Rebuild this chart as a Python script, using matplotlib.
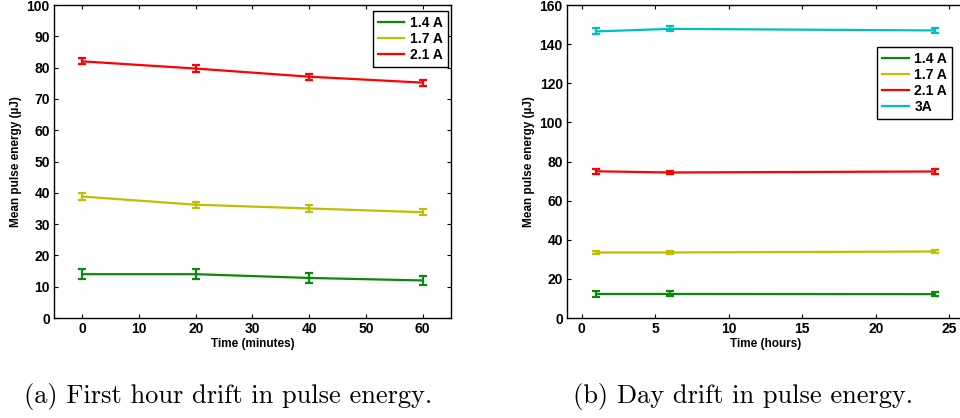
"""
Pulse energy drift, first hour and full day.
"""

import matplotlib
matplotlib.use('Agg')
import matplotlib.pyplot as plt

# Data
# ----------------------------------------------------------------------------

t_min = [0, 20, 40, 60]
hour_14 = [14.0, 14.0, 12.8, 12.0]
hour_14_err = [1.5, 1.5, 1.5, 1.5]
hour_17 = [38.8, 36.2, 35.0, 33.8]
hour_17_err = [1.0, 1.0, 1.0, 1.0]
hour_21 = [82.0, 79.7, 77.1, 75.2]
hour_21_err = [1.0, 1.0, 1.0, 1.0]

t_hours = [1, 6, 24]
day_14 = [12.3, 12.3, 12.2]
day_14_err = [1.5, 1.3, 1.2]
day_17 = [33.5, 33.5, 34.0]
day_17_err = [1.0, 1.0, 1.0]
day_21 = [75.0, 74.4, 74.9]
day_21_err = [1.2, 1.0, 1.2]
day_3 = [146.5, 147.8, 147.0]
day_3_err = [1.5, 1.3, 1.5]

labels = ['1.4 A', '1.7 A', '2.1 A', '3A']
colors = ['#0a8a0a', '#bfbf00', '#ff0000', '#00bfbf']

# Plot
# ----------------------------------------------------------------------------

plt.rcParams['font.family'] = ['Liberation Sans', 'DejaVu Sans']
plt.rcParams['font.weight'] = 'bold'

fig = plt.figure(figsize=(9.6, 4.18), dpi=100)
ax1 = fig.add_axes([0.05625, 0.2392, 0.4135, 0.7488])
ax2 = fig.add_axes([0.5906, 0.2392, 0.4135, 0.7488])


def draw(ax, x, series, errs, n):
    handles = []
    for i in range(n):
        eb = ax.errorbar(x, series[i], yerr=errs[i], color=colors[i], lw=1.6,
                         elinewidth=1.6, capsize=3, capthick=1.6)
        eb[0].set_label(labels[i])
        handles.append(eb[0])
    return handles


h1 = draw(ax1, t_min, [hour_14, hour_17, hour_21],
          [hour_14_err, hour_17_err, hour_21_err], 3)
h2 = draw(ax2, t_hours, [day_14, day_17, day_21, day_3],
          [day_14_err, day_17_err, day_21_err, day_3_err], 4)

ax1.set_xlim(-5, 65)
ax1.set_ylim(0, 100)
ax1.set_xticks(range(0, 61, 10))
ax1.set_yticks(range(0, 101, 10))
ax1.set_xlabel('Time (minutes)', fontsize=8.5, fontweight='bold', labelpad=1)

ax2.set_xlim(-1, 26)
ax2.set_ylim(0, 160)
ax2.set_xticks(range(0, 26, 5))
ax2.set_yticks(range(0, 161, 20))
ax2.set_xlabel('Time (hours)', fontsize=8.5, fontweight='bold', labelpad=1)

for ax in (ax1, ax2):
    ax.set_ylabel('Mean pulse energy (µJ)', fontsize=8.5, fontweight='bold',
                  labelpad=3)
    ax.tick_params(direction='in', length=3, width=0.8, top=True, right=True,
                   labelsize=10, pad=3)
    for s in ax.spines.values():
        s.set_linewidth(1.0)
    for lab in ax.get_xticklabels() + ax.get_yticklabels():
        lab.set_fontweight('bold')

leg_kw = dict(handlelength=1.9, handletextpad=0.4, borderpad=0.35,
              labelspacing=0.15, borderaxespad=0, fancybox=False,
              edgecolor='black', framealpha=1,
              prop={'weight': 'bold', 'size': 10})
l1 = ax1.legend(handles=h1, loc='upper right',
                bbox_to_anchor=(0.992, 0.981), **leg_kw)
l2 = ax2.legend(handles=h2, loc='upper right',
                bbox_to_anchor=(0.970, 0.866), **leg_kw)
for leg in (l1, l2):
    leg.get_frame().set_linewidth(1.0)

fig.text(0.2375, 0.052, '(a) First hour drift in pulse energy.',
         family='cmr10', fontsize=19, ha='center', va='center')
fig.text(0.774, 0.052, '(b) Day drift in pulse energy.',
         family='cmr10', fontsize=19, ha='center', va='center')

fig.savefig('out.png', dpi=100)
